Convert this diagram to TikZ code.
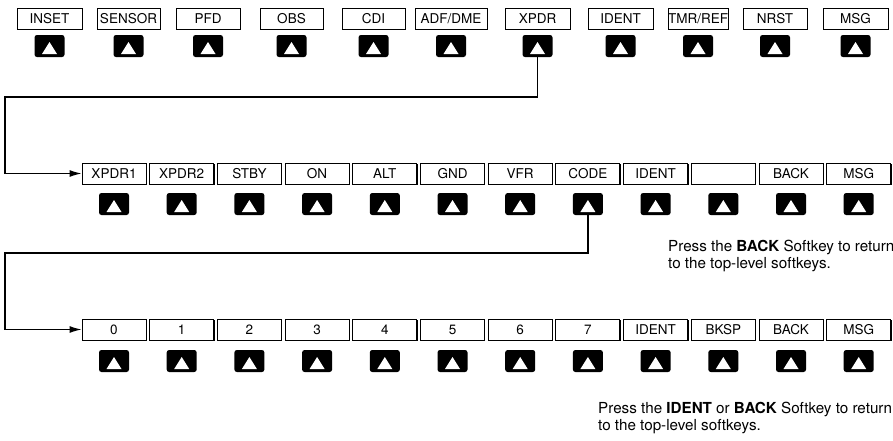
\documentclass[tikz,border=0pt]{standalone}
\usepackage{fontspec}
\setmainfont{TeX Gyre Heros}
\usetikzlibrary{arrows.meta,shadows}

\begin{document}
\begin{tikzpicture}[x=1pt,y=-1pt]
	\tikzstyle{arrow}=[draw, line width=1.2pt, -{Latex[length=12pt,width=7pt]}]
	\tikzstyle{softkey}=[draw, fill=white, line width=0.9pt, inner sep=0pt, minimum height=21pt, font=\fontsize{13.5}{15}\selectfont, drop shadow={shadow xshift=0.9pt, shadow yshift=-0.9pt, fill=black, opacity=1}]
	\tikzstyle{button}=[fill=black, rounded corners=2.5pt, minimum width=30pt, minimum height=22pt, inner sep=0pt, path picture={\fill[white, sharp corners] ([xshift=-7.5pt,yshift=3pt]path picture bounding box.south) -- ([xshift=7.5pt,yshift=3pt]path picture bounding box.south) -- ([yshift=-7pt]path picture bounding box.north) -- cycle;}]
	\tikzstyle{note}=[anchor=north west, align=left, inner sep=0pt, font=\fontsize{15.2}{17}\selectfont]
	\newcommand\YTop{19}
	\newcommand\YTopBtn{46}
	\newcommand\YMid{173.5}
	\newcommand\YMidBtn{204}
	\newcommand\YCode{329.5}
	\newcommand\YCodeBtn{361}
	\newcommand\XLeft{5}

	\useasboundingbox (0,0) rectangle (893,440);

	% Top-level softkeys
	\foreach \x/\w/\t [count=\i] in {49.5/65/INSET, 128.5/63/SENSOR, 208/64/PFD, 291.5/63/OBS, 373.5/63/CDI, 451/72/{ADF/DME}, 537.5/65/XPDR, 620.5/65/IDENT, 698/60/{TMR/REF}, 775/64/NRST, 855.5/65/MSG}{
		\node [softkey, minimum width=\w pt] at (\x,\YTop) (t\i) {\t};
		\node [button] at (\x,\YTopBtn) (tb\i) {};
	}

	% XPDR softkeys
	\foreach \t [count=\i] in {XPDR1, XPDR2, STBY, ON, ALT, GND, VFR, CODE, IDENT, {}, BACK, MSG}{
		\node [softkey, minimum width=64pt] at ({114+67.7*(\i-1)},\YMid) (m\i) {\t};
		\node [button] at ({114+67.7*(\i-1)},\YMidBtn) (mb\i) {};
	}

	% CODE softkeys
	\foreach \t [count=\i] in {0, 1, 2, 3, 4, 5, 6, 7, IDENT, BKSP, BACK, MSG}{
		\node [softkey, minimum width=64pt] at ({114+67.7*(\i-1)},\YCode) (c\i) {\t};
		\node [button] at ({114+67.7*(\i-1)},\YCodeBtn) (cb\i) {};
	}

	% Path Arrows
	\coordinate (bend1) at (\XLeft,97);
	\coordinate (bend2) at (\XLeft,253);
	\path [arrow] (tb7.south) |- (bend1) |- (m1.west);
	\path [arrow] (mb8.south) |- (bend2) |- (c1.west);

	% Notes
	\node [note] at (668,240) (backnote) {Press the \textbf{BACK} Softkey to return\\to the top-level softkeys.};
	\node [note] at (598,402) (identnote) {Press the \textbf{IDENT} or \textbf{BACK} Softkey to return\\to the top-level softkeys.};
\end{tikzpicture}
\end{document}
